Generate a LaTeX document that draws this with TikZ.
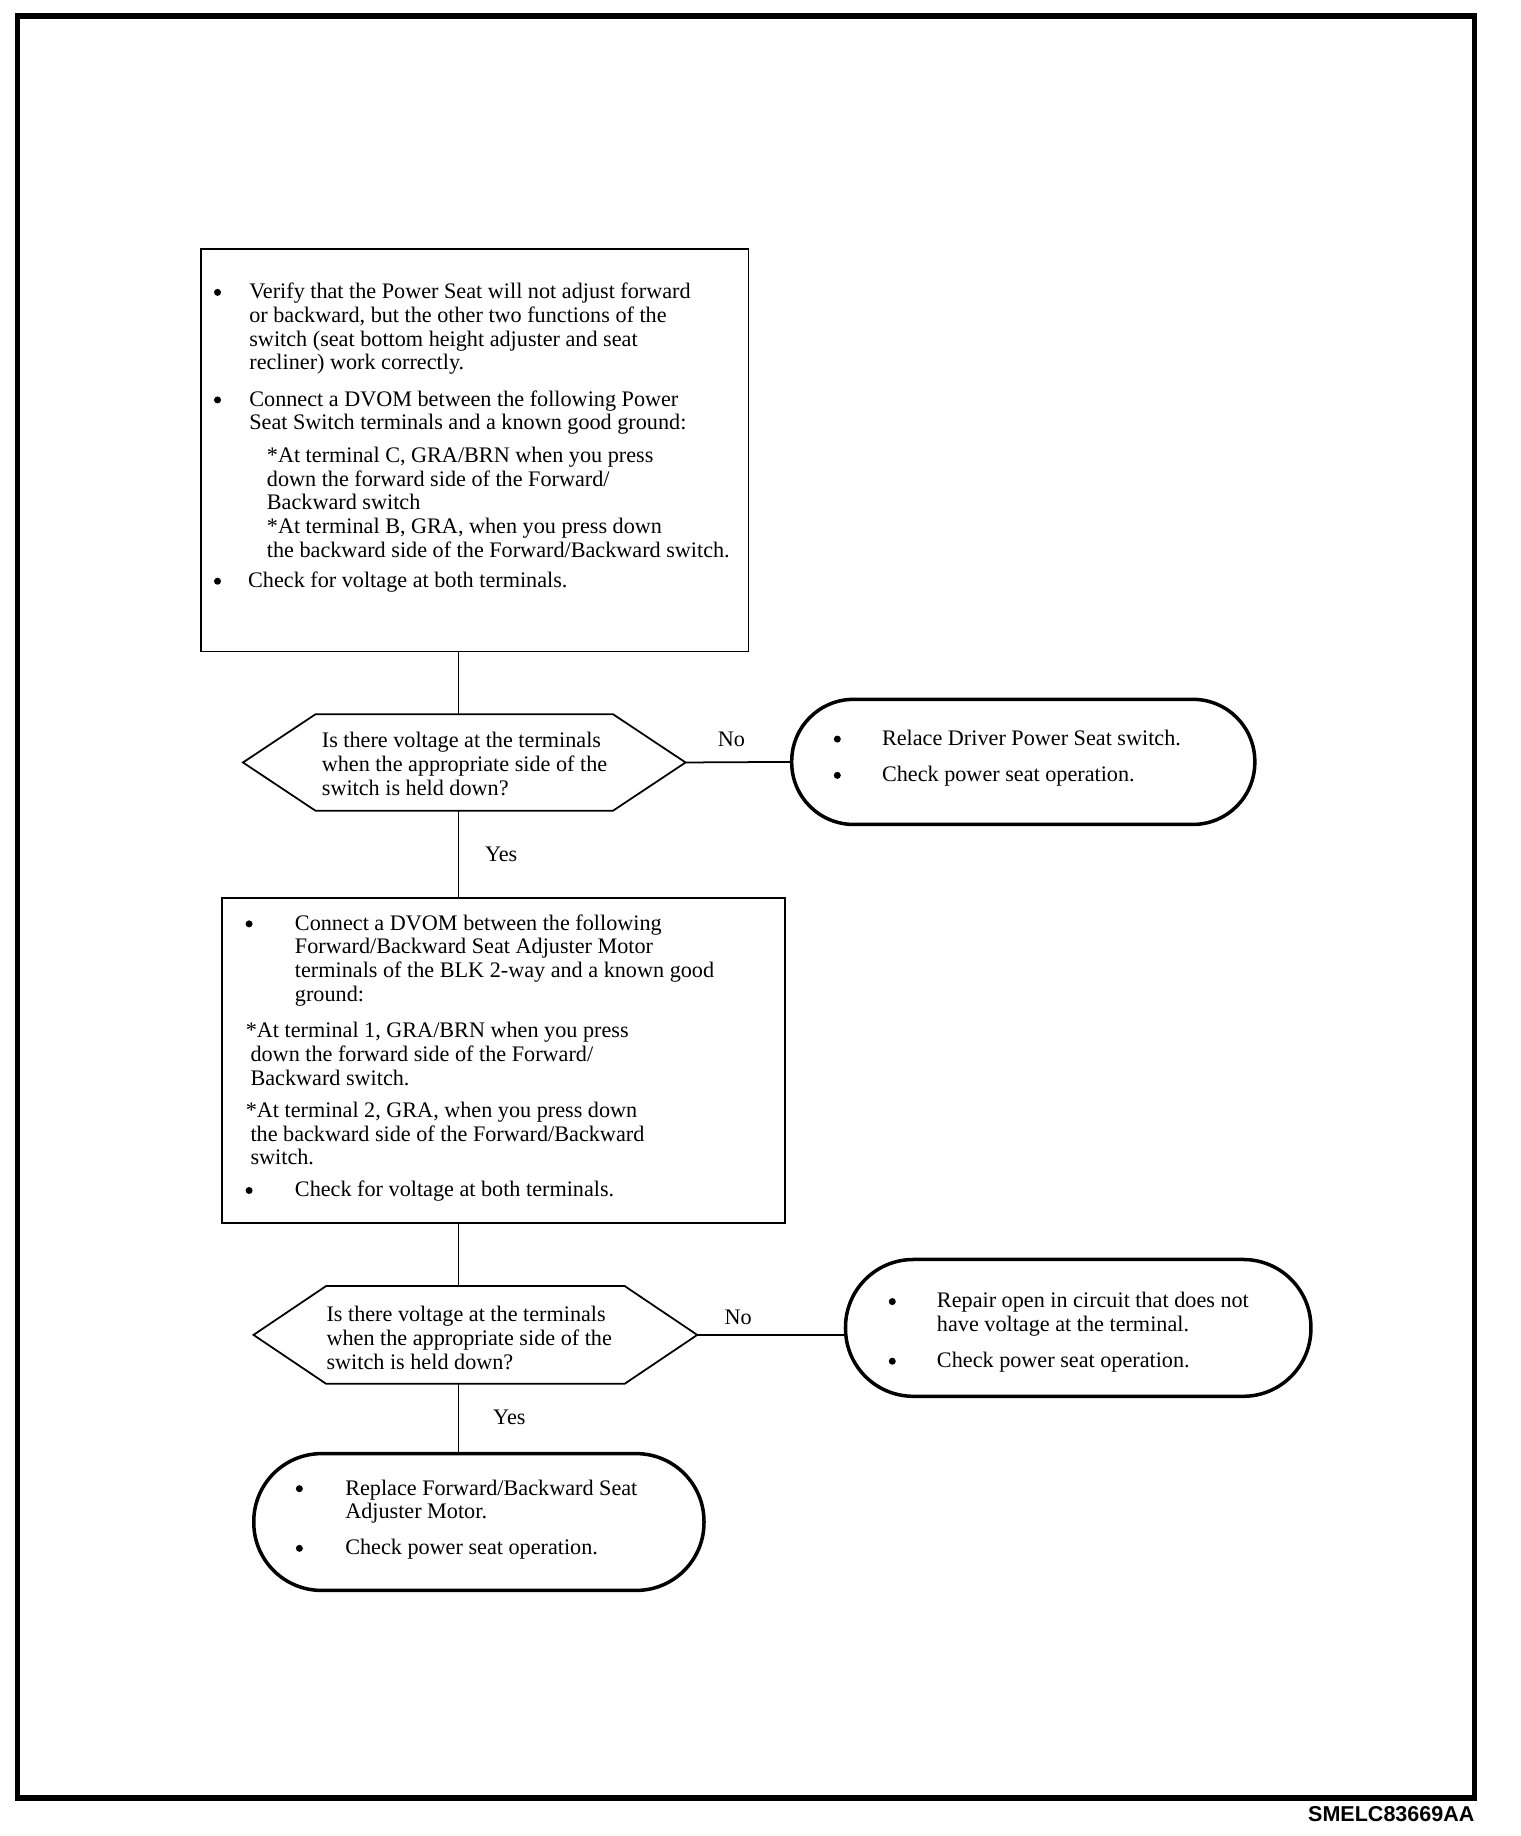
\documentclass[tikz,border=0pt]{standalone}
\usepackage{fontspec}
\setmainfont{Liberation Serif}
\newfontfamily\labelfont{Liberation Sans}
\usetikzlibrary{calc}
\newcommand\bodyfont{\fontsize{16.2}{17.3}\selectfont}
\tikzset{
  txt/.style={anchor=north west, align=left, inner sep=0pt, font=\bodyfont},
  dot/.style={circle, fill, inner sep=0pt, minimum size=1.8mm},
  box/.style={draw, line width=0.45mm, inner sep=0pt},
  oval/.style={draw, line width=0.9mm, inner sep=0pt},
  hexbox/.style={inner sep=0pt},
  rim/.style={line width=0.45mm},
  link/.style={line width=0.45mm},
  lab/.style={inner sep=0pt, font=\bodyfont},
}
% pointed box round a named node
\newcommand\hexoutline[2]{\draw[rim] (#1.west) -- ([xshift=#2]#1.north west) -- ([xshift=-#2]#1.north east) -- (#1.east) -- ([xshift=-#2]#1.south east) -- ([xshift=#2]#1.south west) -- cycle;}
\begin{document}
\begin{tikzpicture}[x=0.3mm,y=-0.3mm,line join=miter]
\useasboundingbox (0,0) rectangle (1300,1570);
\draw[line width=1.4mm] (15,13.5) rectangle (1261,1537.5);
\node[anchor=base east, inner sep=0pt, font=\labelfont\bfseries\fontsize{15.7}{17}\selectfont] (tag) at (1261,1558) {SMELC83669AA};

% shapes
\node[box, minimum width=140.4mm, minimum height=103.2mm] (verify) at (406,385) {};
\node[hexbox, minimum width=113.4mm, minimum height=24.6mm] (ask1) at (397,652) {};
\hexoutline{ask1}{18.6mm}
\node[oval, rounded corners=15.9mm, minimum width=118.8mm, minimum height=32.1mm] (swfix) at (875,651.5) {};
\node[box, minimum width=144.3mm, minimum height=83.4mm] (motorchk) at (430.5,907) {};
\node[hexbox, minimum width=113.7mm, minimum height=24.9mm] (ask2) at (406.5,1141.5) {};
\hexoutline{ask2}{18.6mm}
\node[oval, rounded corners=17.4mm, minimum width=119.4mm, minimum height=35.1mm] (wirefix) at (922,1135.5) {};
\node[oval, rounded corners=17.4mm, minimum width=115.5mm, minimum height=35.1mm] (motorfix) at (409.5,1301.5) {};

% connectors
\coordinate (spine) at (392,0);
\draw[link] (verify.south -| spine) -- (ask1.north -| spine);
\draw[link] (ask1.south -| spine) -- node[lab, anchor=west, xshift=6.6mm] {Yes} (motorchk.north -| spine);
\draw[link] (ask1.east) -- node[lab, pos=.44, anchor=base, yshift=4.05mm] {No} (swfix.west);
\draw[link] (motorchk.south -| spine) -- (ask2.north -| spine);
\draw[link] (ask2.east) -- node[lab, pos=.28, anchor=base, yshift=2.55mm] {No} (ask2.east -| wirefix.west);
\draw[link] (ask2.south -| spine) -- node[lab, anchor=west, xshift=8.7mm] {Yes} (motorfix.north -| spine);

% texts of the first box
\node[dot] (v1b) at (186,250) {};
\node[txt] (v1) at (213,241) {\strut Verify that the Power Seat will not adjust forward\\or backward, but the other two functions of the\\switch (seat bottom height adjuster and seat\\recliner) work correctly.};
\node[dot] (v2b) at (186,342) {};
\node[txt] (v2) at (213,333) {\strut Connect a DVOM between the following Power\\Seat Switch terminals and a known good ground:};
\node[txt] (v3) at (228,381) {\strut *At terminal C, GRA/BRN when you press\\down the forward side of the Forward/\\Backward switch\\*At terminal B, GRA, when you press down\\the backward side of the Forward/Backward switch.};
\node[dot] (v4b) at (186,497) {};
\node[txt] (v4) at (212,488) {\strut Check for voltage at both terminals.};

% first question and its fix
\node[txt] (q1) at (275,625) {\strut Is there voltage at the terminals\\when the appropriate side of the\\switch is held down?};
\node[dot] (s1b) at (716,632) {};
\node[txt] (s1) at (754,623) {\strut Relace Driver Power Seat switch.};
\node[dot] (s2b) at (716,663) {};
\node[txt] (s2) at (754,654) {\strut Check power seat operation.};

% texts of the second box
\node[dot] (m1b) at (213,790) {};
\node[txt] (m1) at (252,781) {\strut Connect a DVOM between the following\\Forward/Backward Seat Adjuster Motor\\terminals of the BLK 2-way and a known good\\ground:};
\node[txt] (m2) at (210,873) {\strut *At terminal 1, GRA/BRN when you press\\\hspace*{1.2mm}down the forward side of the Forward/\\\hspace*{1.2mm}Backward switch.};
\node[txt] (m3) at (210,941) {\strut *At terminal 2, GRA, when you press down\\\hspace*{1.2mm}the backward side of the Forward/Backward\\\hspace*{1.2mm}switch.};
\node[dot] (m4b) at (213,1018) {};
\node[txt] (m4) at (252,1009) {\strut Check for voltage at both terminals.};

% second question and its fixes
\node[txt] (q2) at (279,1116) {\strut Is there voltage at the terminals\\when the appropriate side of the\\switch is held down?};
\node[dot] (w1b) at (763,1113) {};
\node[txt] (w1) at (801,1104) {\strut Repair open in circuit that does not\\have voltage at the terminal.};
\node[dot] (w2b) at (763,1164) {};
\node[txt] (w2) at (801,1155) {\strut Check power seat operation.};
\node[dot] (r1b) at (256,1273) {};
\node[txt] (r1) at (295,1264) {\strut Replace Forward/Backward Seat\\Adjuster Motor.};
\node[dot] (r2b) at (256,1324) {};
\node[txt] (r2) at (295,1315) {\strut Check power seat operation.};
\end{tikzpicture}
\end{document}
